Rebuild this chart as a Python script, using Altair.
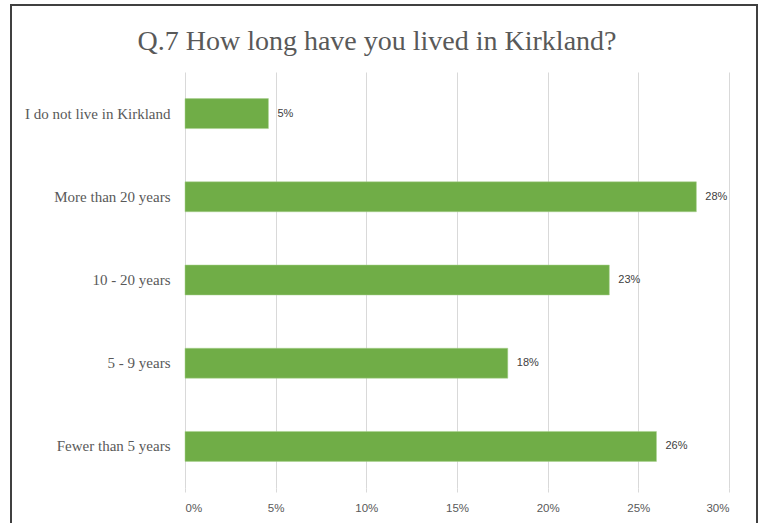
import altair as alt
import pandas as pd

categories = ["I do not live in Kirkland", "More than 20 years", "10 - 20 years", "5 - 9 years", "Fewer than 5 years"]
shares = [0.046, 0.282, 0.234, 0.178, 0.260]
x_ticks = [0, 0.05, 0.10, 0.15, 0.20, 0.25, 0.30]
title_text = "Q.7  How long have you lived in Kirkland?"

df = pd.DataFrame({"category": categories, "share": shares})

W, H = 544, 416
GREY = "#595959"

x_enc = alt.X("share:Q",
              scale=alt.Scale(domain=[0, 0.30], nice=False, zero=True),
              axis=alt.Axis(values=x_ticks, format=".0%", title=None, domain=False,
                            tickColor="#d9d9d9", tickSize=4, grid=True, gridColor="#d9d9d9",
                            labelFont="Liberation Sans", labelFontSize=11.5, labelColor=GREY,
                            labelPadding=10))
y_enc = alt.Y("category:N", sort=categories,
              scale=alt.Scale(paddingInner=0.64, paddingOuter=0.32),
              axis=alt.Axis(title=None, domain=False, ticks=False, grid=False,
                            labelFont="Liberation Serif", labelFontSize=15, labelColor=GREY,
                            labelPadding=15, labelLimit=300))

bars = alt.Chart(df).mark_bar(color="#70AD47", stroke="#a9d18e", strokeWidth=0.5).encode(x=x_enc, y=y_enc)

labels = alt.Chart(df).mark_text(align="left", dx=9, font="Liberation Sans", fontSize=11,
                                  color="#404040").encode(
    x="share:Q", y=alt.Y("category:N", sort=categories),
    text=alt.Text("share:Q", format=".0%"))

frame = alt.Chart(df).mark_rect(fill=None, stroke="#404040", strokeWidth=2, clip=False).encode(
    x=alt.value(-174), x2=alt.value(572), y=alt.value(-67), y2=alt.value(470))

chart = alt.layer(frame, bars, labels).properties(
    width=W, height=H,
    background="white",
    padding={"left": 185, "top": 72, "right": 34, "bottom": 35},
    autosize=alt.AutoSizeParams(type="none"),
    title=alt.TitleParams(title_text, font="Liberation Serif", fontSize=28, fontWeight="normal",
                          color=GREY, anchor="middle", frame="group", dx=-80, offset=-52),
).configure_view(strokeWidth=0, stroke="transparent")

chart.save("out.html", embed_options={"renderer": "svg", "actions": False})
